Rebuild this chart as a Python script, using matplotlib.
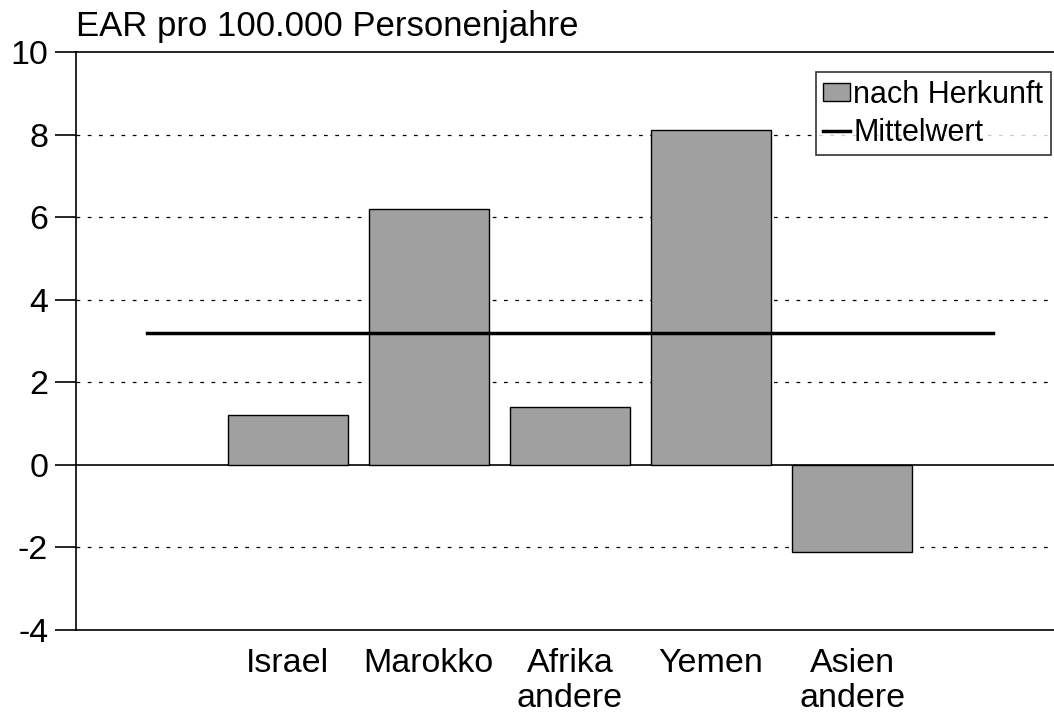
import matplotlib
matplotlib.use("Agg")
import matplotlib.pyplot as plt
from matplotlib.patches import Patch
from matplotlib.lines import Line2D

plt.rcParams['font.family'] = ['Liberation Sans', 'DejaVu Sans']

categories = ["Israel", "Marokko", "Afrika\nandere", "Yemen", "Asien\nandere"]
values = [1.2, 6.2, 1.4, 8.1, -2.1]
mean_value = 3.2
yticks = [-4, -2, 0, 2, 4, 6, 8, 10]

fig = plt.figure(figsize=(10.54, 7.13), dpi=100)
ax = fig.add_axes([76/1054, 1-630/713, 1-76/1054, (630-52)/713])

pos = list(range(1, len(categories)+1))
ax.bar(pos, values, width=0.85, color="#a0a0a0", edgecolor="black", linewidth=1.0, zorder=3)
ax.plot([0, len(categories)+1], [mean_value, mean_value], color="black", linewidth=2.5, zorder=4)

ax.set_xlim(-0.5, 6.43)
ax.set_ylim(-4, 10)
ax.set_yticks(yticks)
ax.set_yticklabels([str(t) for t in yticks], fontsize=24.5)
ax.set_xticks(pos)
ax.set_xticklabels(categories, fontsize=24.5, linespacing=1.16)
ax.tick_params(axis='x', length=0, pad=13)
ax.tick_params(axis='y', length=15, width=1.2, pad=5, direction='out')

for t in yticks:
    if t == 0:
        ax.axhline(0, color="black", linewidth=1.2, zorder=2)
    elif t in (-4, 10):
        pass
    else:
        ax.axhline(t, color="black", linewidth=0.9, linestyle=(0, (3, 6)), zorder=1)

for s in ['right']:
    ax.spines[s].set_visible(False)
for s in ['left', 'top', 'bottom']:
    ax.spines[s].set_linewidth(1.2)

ax.text(0, 1.015, "EAR pro 100.000 Personenjahre", transform=ax.transAxes,
        fontsize=25, ha='left', va='bottom')

handles = [Patch(facecolor="#a0a0a0", edgecolor="black", label="nach Herkunft"),
           Line2D([0], [0], color="black", linewidth=2.5, label="Mittelwert")]
leg = ax.legend(handles=handles, loc='upper right', bbox_to_anchor=(0.997, 0.965),
                fontsize=22, frameon=True, fancybox=False, borderpad=0.25,
                handlelength=0.88, handleheight=0.5, handletextpad=0.1,
                labelspacing=0.25, borderaxespad=0)
leg.get_frame().set_edgecolor("black")
leg.get_frame().set_linewidth(1.2)

fig.savefig("out.png", dpi=100)
